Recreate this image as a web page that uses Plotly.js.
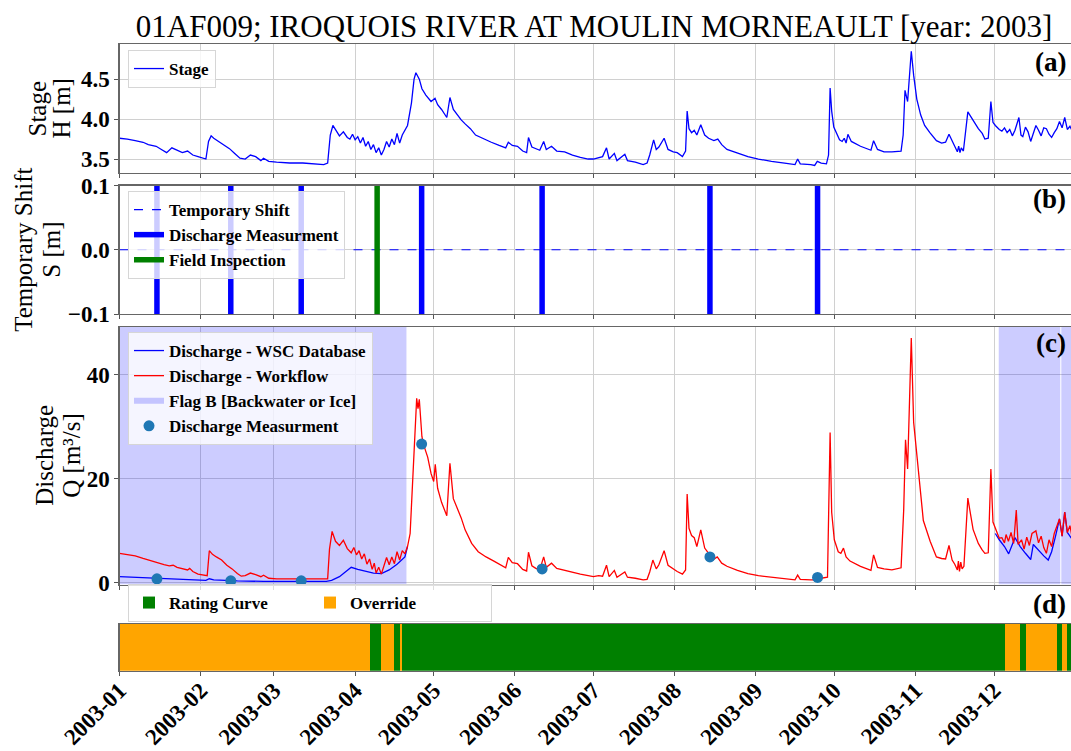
<!DOCTYPE html>
<html>
<head>
<meta charset="utf-8">
<script src="https://cdn.plot.ly/plotly-3.0.1.min.js"></script>
<style>html,body{margin:0;padding:0;background:#fff;}#chart{width:1071px;height:751px;}</style>
</head>
<body>
<div id="chart"></div>
<script>
// ---------------- DATA (day = days after 2003-01-01) ----------------
const chartTitle = "01AF009; IROQUOIS RIVER AT MOULIN MORNEAULT [year: 2003]";
const yTitleA = ["Stage", "H [m]"];
const yTitleB = ["Temporary Shift", "S [m]"];
const yTitleC = ["Discharge", "Q [m³/s]"];
const panelLabels = ["(a)", "(b)", "(c)", "(d)"];

const stageDay = [0,3,6,9,11,14,16,18,20,22,24,26,28,30,32,33,34,35,36,38,40,42,44,46,48,50,52,54,55,57,60,65,70,75,78,79.5,80.5,81.5,83,84,85.5,87,88,89,90,91,92,93,94,95,96,97,98,99,100,101,102,103,104,105,106,107,108,109,110,111.5,112.5,113.2,113.8,114.5,115.5,117,119,120.5,121.5,123,125,126.2,127.5,129,130.5,132,134,136,139,142,145,147.5,148.5,150,152,154,155.5,156.2,157.5,159,160.5,162,163,165,167,170,173,176,179,181,183,184.5,186,187,189,190,193,194,197,200,201.5,202.5,204,205,206,208,209.5,211.5,213,215,216.2,216.8,217.5,218.5,219.5,220.5,222,223.5,225,227,228.5,230,232,236,240,244,249,254,258,259,260,264,265.5,266.5,268,270,270.8,271.4,272,272.8,274,275,276,276.8,277.5,278.2,279.5,283,287,288,289.5,292,295,298.5,299.3,300,301,301.8,302.4,303.3,304.5,306,307.5,309.5,312,314,315.5,316.8,318,319,320,320.5,321,321.5,322.3,324,326,328,329.5,330.5,331.8,332.8,333.6,334.5,336,337,338,339,340,341,342,343.5,344.3,345,346,347,348,349,350,351,352,353,354,355,356,357,358,359,360,361,362,363,364];
const stageH = [3.76,3.75,3.73,3.71,3.68,3.66,3.62,3.58,3.64,3.61,3.58,3.60,3.55,3.53,3.51,3.50,3.72,3.79,3.76,3.72,3.68,3.63,3.57,3.51,3.50,3.55,3.53,3.48,3.51,3.47,3.46,3.45,3.45,3.44,3.43,3.45,3.80,3.92,3.84,3.79,3.84,3.77,3.75,3.81,3.74,3.78,3.70,3.77,3.66,3.72,3.62,3.68,3.58,3.64,3.55,3.62,3.72,3.65,3.75,3.68,3.82,3.70,3.80,3.86,3.92,4.20,4.50,4.58,4.55,4.50,4.38,4.30,4.22,4.26,4.18,4.12,4.02,4.27,4.12,4.05,3.99,3.94,3.88,3.80,3.75,3.71,3.67,3.64,3.71,3.67,3.66,3.60,3.58,3.77,3.65,3.63,3.61,3.72,3.62,3.66,3.60,3.59,3.55,3.52,3.50,3.50,3.52,3.53,3.64,3.50,3.57,3.48,3.56,3.48,3.46,3.43,3.45,3.55,3.74,3.62,3.65,3.76,3.62,3.59,3.58,3.53,3.60,4.10,3.88,3.83,3.86,3.80,3.93,3.80,3.76,3.73,3.75,3.68,3.62,3.57,3.53,3.50,3.47,3.45,3.43,3.50,3.44,3.43,3.42,3.47,3.45,3.44,3.55,4.39,4.10,3.90,3.80,3.74,3.72,3.76,3.70,3.81,3.72,3.66,3.61,3.73,3.62,3.59,3.59,3.60,3.80,4.36,4.22,4.55,4.85,4.55,4.25,4.05,3.92,3.83,3.73,3.70,3.71,3.81,3.72,3.66,3.59,3.66,3.58,3.64,3.60,4.09,3.98,3.88,3.82,3.75,3.76,4.22,3.96,3.92,3.87,3.85,3.89,3.83,3.87,3.79,3.86,4.02,3.80,3.78,3.90,3.84,3.72,3.83,3.92,3.86,3.79,3.89,3.88,3.81,3.77,3.83,3.88,3.97,3.89,4.02,3.87,3.91,3.84];

const qDay = [0,3,6,9,12,15,17,19,20.5,22,24,26,26.8,28,30,32,33.5,34.3,35.5,37,39,41,43,45,46.5,48,50,52,54,55,57,60,65,70,75,79.5,80.2,81.2,82.5,84,85.5,87,88.5,89.5,90.5,91.5,92.5,93.5,94.5,95.5,96.5,97.3,98,99,100,101,102,103,104,105,106,107,108,109,110,111,112,112.8,113.5,114,114.5,115.5,116.5,117.7,119,120,120.6,121.5,123,125,126.2,127.5,129,130.5,132,134.5,137,140,143,145.5,147.5,148.5,150,152,154,155.5,156.2,157.5,159,160.5,162,163,165,167,170,173,176,179,181,183,184.5,186,187,189,190,193,194,197,200,201.5,202.5,203.7,205,206,208,209.5,211.5,213,215,216.2,216.8,217.5,218.5,219.5,220.5,222,223.5,225,226.5,228.3,230,232,236,240,244,249,254,258,259,260,264,266,266.8,268,270.4,271.4,272,273,274.5,275.5,276.5,277.5,279,283,287,288,289.5,292,295,298.5,299.5,300.2,301,301.8,302.4,303.3,305,307,309.6,312,314,315.5,316.8,318,319,320,320.4,320.8,321.3,321.8,322.5,324,326,328,329.4,330.5,331.8,332.8,333.6,335,336,337,338,338.6,339.5,340.5,341.5,342.5,343.2,344.5,345.5,346.5,347.5,348.5,350,351,352,353,354,355,356,357,359,360,361,362,363,364];
const qWorkflow = [5.7,5.5,5.2,4.7,4.2,3.8,3.5,3.3,3.4,3.0,2.7,2.5,2.8,2.2,1.7,1.5,1.4,6.2,5.5,5.0,4.4,3.4,2.7,1.8,1.3,1.4,1.9,1.6,1.2,1.5,0.9,0.8,0.8,0.8,0.8,0.8,6.5,9.9,8.0,7.2,8.2,6.6,5.8,6.8,5.4,6.2,4.6,5.6,3.6,4.6,2.6,3.8,1.9,3.0,1.7,3.4,4.9,3.5,5.0,3.7,6.0,4.4,6.2,5.6,7.0,9.5,20.2,30.0,35.5,33.5,35.3,28.1,26.0,24.2,21.0,19.5,22.8,18.2,15.5,12.9,23.0,16.2,14.5,12.5,10.2,7.6,6.0,5.0,4.2,3.4,2.9,4.9,3.9,3.7,2.6,2.3,5.9,3.3,2.8,2.5,5.0,3.0,3.8,2.8,2.4,2.0,1.7,1.4,1.2,1.4,1.3,3.4,1.2,2.4,1.1,2.1,1.1,0.9,0.6,0.7,2.1,4.4,2.7,3.5,6.2,3.4,2.7,2.2,1.7,2.5,17.1,10.5,9.1,8.7,7.0,10.2,6.7,5.7,4.4,5.0,3.8,3.2,2.4,1.8,1.4,1.1,0.8,0.6,1.5,0.7,0.6,0.6,1.4,0.9,1.1,28.9,13.6,8.3,6.0,5.7,6.7,5.0,4.2,3.2,2.4,5.4,3.0,2.7,2.5,2.9,14.0,27.5,21.9,35.0,47.1,30.9,21.6,12.0,8.0,5.0,4.7,4.6,7.2,4.4,3.6,2.5,4.2,2.2,4.0,2.7,3.2,16.3,10.3,7.6,6.4,5.7,5.8,21.9,11.7,9.7,8.6,8.7,7.7,9.3,8.0,9.7,7.6,14.0,7.4,8.3,6.5,8.8,7.2,9.5,10.0,7.7,9.0,6.8,5.7,8.3,7.0,9.5,12.3,9.0,13.6,9.7,11.0,8.3];

// WSC database discharge, where it differs from the workflow (null = gap)
const wscDay = [0,10,20,31,33,34.3,36,45,55,70,79,81,84,86,88.5,91,94,97,100,103,106,109,110,null,334.5,336,338,339.6,342,344,346,348,349,351,353,354.7,356,357.5,359,360,361,362,363,364];
const wscQ   = [1.2,1.0,0.8,0.6,0.5,0.8,0.6,0.4,0.3,0.3,0.3,0.5,1.2,2.0,3.0,2.6,2.2,1.9,1.8,2.5,3.6,5.0,7.0,null,9.5,8.3,7.0,5.6,8.7,7.0,5.7,4.5,7.4,6.2,5.2,4.4,6.0,9.0,12.3,9.0,13.6,9.7,9.0,8.3];

const measDay = [14.3,42.5,69.4,115.4,161.4,225.5,266.6];
const measQ   = [0.8,0.4,0.4,26.7,2.7,5.0,1.05];
const inspDay = [98.4];

const shiftDay = [0,363.4];
const shiftS   = [0,0];

const flagStart = [0,335.8,359.7];
const flagEnd   = [109.6,359.3,363.4];

const ratingStart   = [95.7,104.9,107.9,343.9,358.0,362.0];
const ratingEnd     = [100.0,107.1,338.2,346.3,360.1,363.4];
const overrideStart = [0,100.0,107.1,338.2,346.3,360.1];
const overrideEnd   = [95.7,104.9,107.9,343.9,358.0,362.0];

const xRangeDays = [0,363.4];
const stageRange = [3.325,4.94];
const shiftRange = [-0.1,0.1];
const qRange     = [-0.3,49.2];

// ---------------- HELPERS ----------------
const T0 = Date.UTC(2003,0,1);
function dt(day){
  if(day===null) return null;
  return new Date(T0 + day*86400000).toISOString().slice(0,19).replace('T',' ');
}
const DAYMS = 86400000;
const SERIF = "Liberation Serif, Times New Roman, serif";
const legFont = {family:SERIF, size:17, color:'#000', weight:'bold'};
const tickFont = {family:SERIF, size:23, color:'#000', weight:'bold'};
const titleFont = {family:SERIF, size:25, color:'#000'};

// vertical lines for (b)
function vlines(days){
  const xs=[], ys=[];
  days.forEach(d=>{ xs.push(dt(d),dt(d),null); ys.push(shiftRange[0],shiftRange[1],null); });
  return {xs, ys};
}
const mv = vlines(measDay), iv = vlines(inspDay);

// flag polygons for (c)
const fx=[], fy=[];
flagStart.forEach((s,i)=>{
  const e=flagEnd[i];
  fx.push(dt(s),dt(e),dt(e),dt(s),dt(s),null);
  fy.push(qRange[0],qRange[0],qRange[1],qRange[1],qRange[0],null);
});

const traces = [
  // (a)
  {x:stageDay.map(dt), y:stageH, type:'scatter', mode:'lines', name:'Stage',
   line:{color:'#0000ff', width:1.3}, xaxis:'x', yaxis:'y', legend:'legend'},
  // (b)
  {x:shiftDay.map(dt), y:shiftS, type:'scatter', mode:'lines', name:'Temporary Shift',
   line:{color:'#0000ff', width:1.2, dash:'dash'}, xaxis:'x2', yaxis:'y2', legend:'legend2'},
  {x:mv.xs, y:mv.ys, type:'scatter', mode:'lines', name:'Discharge Measurment',
   line:{color:'#0000ff', width:5.5}, xaxis:'x2', yaxis:'y2', legend:'legend2'},
  {x:iv.xs, y:iv.ys, type:'scatter', mode:'lines', name:'Field Inspection',
   line:{color:'#008000', width:5.5}, xaxis:'x2', yaxis:'y2', legend:'legend2'},
  // (c)
  {x:fx, y:fy, type:'scatter', mode:'none', fill:'toself', fillcolor:'rgba(0,0,255,0.2)',
   name:'Flag B [Backwater or Ice]', xaxis:'x3', yaxis:'y3', legend:'legend3', legendrank:3},
  {x:wscDay.map(dt), y:wscQ, type:'scatter', mode:'lines', name:'Discharge - WSC Database',
   line:{color:'#0000ff', width:1.3}, connectgaps:false, xaxis:'x3', yaxis:'y3', legend:'legend3', legendrank:1},
  {x:qDay.map(dt), y:qWorkflow, type:'scatter', mode:'lines', name:'Discharge - Workflow',
   line:{color:'#ff0000', width:1.3}, xaxis:'x3', yaxis:'y3', legend:'legend3', legendrank:2},
  {x:measDay.map(dt), y:measQ, type:'scatter', mode:'markers', name:'Discharge Measurment',
   marker:{color:'#1f77b4', size:11}, xaxis:'x3', yaxis:'y3', legend:'legend3', legendrank:4},
  // (d)
  {type:'bar', orientation:'h', name:'Rating Curve', y:ratingStart.map(()=>0),
   base:ratingStart.map(dt), x:ratingStart.map((s,i)=>(ratingEnd[i]-s)*DAYMS),
   marker:{color:'#008000', line:{width:0}}, xaxis:'x4', yaxis:'y4', legend:'legend4'},
  {type:'bar', orientation:'h', name:'Override', y:overrideStart.map(()=>0),
   base:overrideStart.map(dt), x:overrideStart.map((s,i)=>(overrideEnd[i]-s)*DAYMS),
   marker:{color:'#ffa500', line:{width:0}}, xaxis:'x4', yaxis:'y4', legend:'legend4'}
];

const XD = [119.5/1071, 1];
function xax(anchor, showLabels){
  return {
    anchor:anchor,
    type:'date', domain:XD, range:[dt(xRangeDays[0]), dt(xRangeDays[1])],
    tick0:'2003-01-01', dtick:'M1', tickformat:'%Y-%m',
    showticklabels:showLabels, tickangle:-45, tickfont:tickFont, ticklabelstandoff:-8,
    ticks:'outside', ticklen:4, tickcolor:'#555', tickwidth:1,
    showgrid:true, gridcolor:'#d0d0d0', gridwidth:1,
    showline:true, linecolor:'#666', linewidth:1.2, mirror:true,
    zeroline:false, automargin:false
  };
}
function yax(anchor, dom, range, extra){
  return Object.assign({
    anchor:anchor,
    domain:dom, range:range, tickfont:tickFont,
    ticks:'outside', ticklen:4, tickcolor:'#555',
    showgrid:true, gridcolor:'#d0d0d0', gridwidth:1,
    showline:true, linecolor:'#666', linewidth:1.2, mirror:true,
    zeroline:false, automargin:false
  }, extra||{});
}
const H = 751;
const legBase = {bgcolor:'rgba(255,255,255,0.8)', bordercolor:'#d6d6d6', borderwidth:1,
  font:legFont, xanchor:'left', yanchor:'top', x:128/1071};

// y-axis titles (two lines each, as in the reference)
const DA = [44,173], DB = [185.5,314], DC = [327,584.5];
function ytitle(lines, cx, panel){
  const yc = 1 - (panel[0]+panel[1])/2/H;
  return [
    {text:lines[0], x:(cx[0])/1071, y:yc},
    {text:lines[1], x:(cx[1])/1071, y:yc}
  ].map(a=>Object.assign(a,{xref:'paper', yref:'paper', xanchor:'center', yanchor:'middle',
      textangle:-90, showarrow:false, font:titleFont}));
}
const panelAnn = [
  {text:panelLabels[0], x:0.997, y:1-62/H},
  {text:panelLabels[1], x:0.997, y:1-199/H},
  {text:panelLabels[2], x:0.997, y:1-343/H},
  {text:panelLabels[3], x:0.997, y:1-604/H}
].map(a=>Object.assign(a, {xref:'paper', yref:'paper', xanchor:'right', yanchor:'middle',
      showarrow:false, font:{family:SERIF, size:27, color:'#000', weight:'bold'}}));

const layout = {
  width:1071, height:751,
  margin:{l:0, r:0, t:0, b:0},
  paper_bgcolor:'#fff', plot_bgcolor:'#fff',
  showlegend:true,
  barmode:'overlay', bargap:0,
  title:{text:chartTitle, font:{family:SERIF, size:31, color:'#000'},
         x:594/1071, xanchor:'center', y:1-26/H, yanchor:'middle'},
  xaxis:  xax('y', false),
  xaxis2: Object.assign(xax('y2', false), {matches:'x'}),
  xaxis3: Object.assign(xax('y3', false), {matches:'x'}),
  xaxis4: Object.assign(xax('y4', true), {matches:'x'}),
  yaxis:  yax('x', [1-DA[1]/H, 1-DA[0]/H], stageRange, {tickvals:[3.5,4.0,4.5], ticktext:['3.5','4.0','4.5']}),
  yaxis2: yax('x2', [1-DB[1]/H, 1-DB[0]/H], shiftRange, {tickvals:[-0.1,0,0.1], tickformat:'.1f'}),
  yaxis3: yax('x3', [1-DC[1]/H, 1-DC[0]/H], qRange, {tickvals:[0,20,40]}),
  yaxis4: {anchor:'x4', domain:[1-670.7/H, 1-624/H], range:[-0.5,0.5], showticklabels:false, ticks:'',
           showgrid:false, zeroline:false, showline:true, linecolor:'#666', linewidth:1.2, mirror:true, fixedrange:true},
  legend:  Object.assign({}, legBase, {y:1-50/H}),
  legend2: Object.assign({}, legBase, {y:1-191/H}),
  legend3: Object.assign({}, legBase, {y:1-332/H, traceorder:'normal'}),
  legend4: Object.assign({}, legBase, {y:1-584/H, orientation:'h', entrywidth:136}),
  annotations: panelAnn
    .concat(ytitle(yTitleA, [37,61], DA))
    .concat(ytitle(yTitleB, [24,52], DB))
    .concat(ytitle(yTitleC, [45,72], DC))
};

Plotly.newPlot('chart', traces, layout, {displayModeBar:false, staticPlot:true});
</script>
</body>
</html>
